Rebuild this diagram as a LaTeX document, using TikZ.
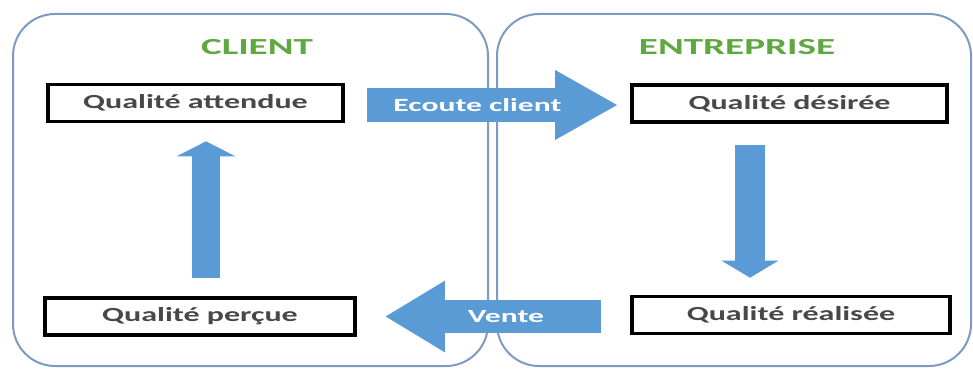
\documentclass[tikz,border=0pt]{standalone}
\usepackage{fontspec}
\setmainfont[FakeStretch=1.7]{Carlito}
\newfontfamily\boxfont[FakeStretch=1.6]{Carlito}
\usepackage{xcolor}
\usepackage{tikz}
\usetikzlibrary{positioning,arrows.meta,calc}

\definecolor{arrowblue}{HTML}{5B9BD5}
\definecolor{panelblue}{HTML}{7D9BC1}
\definecolor{titlegreen}{HTML}{5FA73F}
\definecolor{boxtext}{HTML}{484848}

\tikzset{
    panel/.style={draw=panelblue, line width=1pt, rounded corners=21pt},
    paneltitle/.style={font=\fontsize{11.5}{13}\selectfont\bfseries, text=titlegreen},
    qbox/.style={draw=black, line width=1.8pt, fill=white, minimum height=18.5pt,
        inner sep=0pt, font=\fontsize{10}{12}\boxfont\bfseries, text=boxtext},
    bigarrow/.style={draw=arrowblue, line width=#1},
    arrowlabel/.style={font=\fontsize{9.3}{11}\selectfont\bfseries, text=white}
}

\begin{document}
\begin{tikzpicture}[x=0.5pt, y=-0.5pt]
    \useasboundingbox (0,0) rectangle (973,369);

    % the two sides
    \draw[panel] (13,14) rectangle (488,366);
    \draw[panel] (497,14) rectangle (971,366);

    \node[paneltitle] (client) at (257,47) {CLIENT};
    \node[paneltitle] (entreprise) at (737,47) {ENTREPRISE};

    \node[qbox, minimum width=147.5pt] (attendue) at (195.5,103) {Qualité attendue};
    \node[qbox, minimum width=155pt] (percue) at (200,316.5) {Qualité perçue};
    \node[qbox, minimum width=157.5pt] (desiree) at (789.5,103.5) {Qualité désirée};
    \node[qbox, minimum width=159pt] (realisee) at (791,315) {Qualité réalisée};

    % block arrows
    \draw[bigarrow=14pt, -{Triangle[length=7.5pt, width=29pt]}]
        ($(percue.north)+(6,-18)$) -- ($(attendue.south)+(10.5,18)$);
    \draw[bigarrow=15pt, -{Triangle[length=8.5pt, width=28pt]}]
        ($(desiree.south)+(-39.5,21)$) -- ($(realisee.north)+(-41,-17)$);
    \draw[bigarrow=17pt, -{Triangle[length=31.5pt, width=32.5pt]}]
        ($(attendue.east)+(22,2)$) -- ($(desiree.west)+(-12,1.5)$)
        node[arrowlabel, pos=0.44] {Ecoute client};
    \draw[bigarrow=16.5pt, -{Triangle[length=30pt, width=33.5pt]}]
        ($(realisee.west)+(-29,1.5)$) -- ($(percue.east)+(28,0)$)
        node[arrowlabel, pos=0.44] {Vente};
\end{tikzpicture}
\end{document}
